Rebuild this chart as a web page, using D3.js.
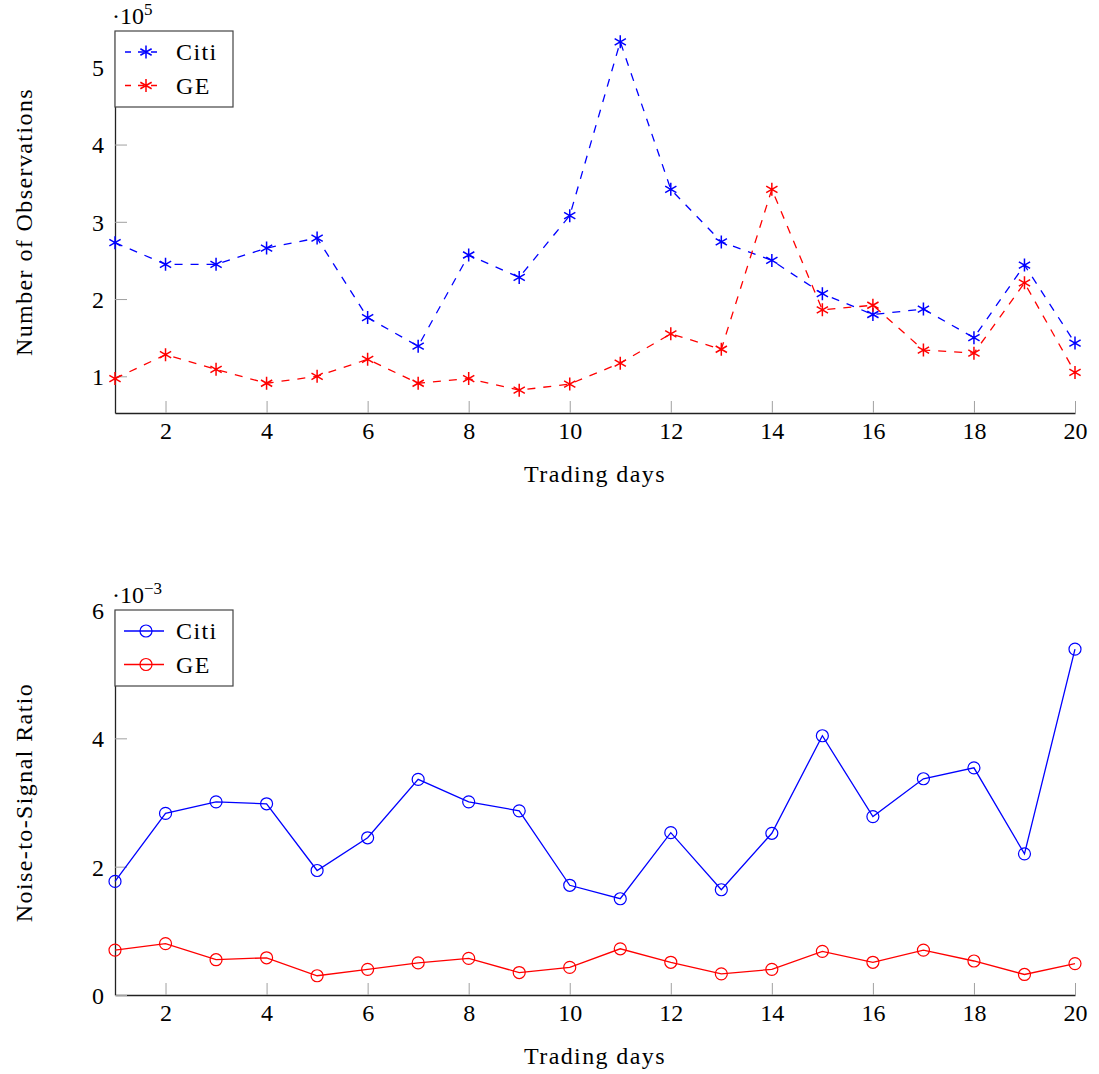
<!DOCTYPE html>
<html>
<head>
<meta charset="utf-8">
<script src="https://cdn.jsdelivr.net/npm/d3@7"></script>
<style>
	body { margin: 0; background: #fff; }
	text { font-family: "Liberation Serif", "DejaVu Serif", serif; fill: #000; }
</style>
</head>
<body>
<div id="app"></div>
<script>
// trading days and tick values
const days = [1, 2, 3, 4, 5, 6, 7, 8, 9, 10, 11, 12, 13, 14, 15, 16, 17, 18, 19, 20];
const dayTicks = [2, 4, 6, 8, 10, 12, 14, 16, 18, 20];

// number of observations, in units of 10^5
const obsCiti = [2.73, 2.45, 2.45, 2.66, 2.79, 1.76, 1.39, 2.57, 2.28, 3.08, 5.33, 3.42, 2.74, 2.50, 2.07, 1.80, 1.87, 1.50, 2.44, 1.43];
const obsGE = [0.97, 1.28, 1.09, 0.91, 1.00, 1.22, 0.91, 0.97, 0.82, 0.90, 1.17, 1.55, 1.35, 3.42, 1.86, 1.92, 1.34, 1.30, 2.21, 1.05];
const obsTicks = [1, 2, 3, 4, 5];

// noise-to-signal ratio, in units of 10^-3
const nsrCiti = [1.77, 2.83, 3.01, 2.98, 1.94, 2.45, 3.36, 3.01, 2.87, 1.71, 1.50, 2.53, 1.64, 2.52, 4.04, 2.78, 3.37, 3.54, 2.20, 5.39];
const nsrGE = [0.70, 0.80, 0.55, 0.58, 0.30, 0.40, 0.50, 0.57, 0.35, 0.43, 0.72, 0.51, 0.33, 0.40, 0.68, 0.51, 0.70, 0.53, 0.32, 0.49];
const nsrTicks = [0, 2, 4, 6];

const config = {
	width: 1099,
	height: 1074,
	left: 115,
	right: 1075,
	fontSize: 24,
	wordSpacing: "1.4px",
	color: { citi: "#0000ff", ge: "#ff0000" },
	tickColor: "#a0a0a0"
};

const svg = d3.select("#app").append("svg")
	.attr("width", config.width)
	.attr("height", config.height);

const x = d3.scaleLinear().domain([1, 20]).range([config.left, config.right]);

function asterisk(r) {
	let p = "";
	[90, 30, 150].forEach(a => {
		const dx = r * Math.cos(a * Math.PI / 180), dy = r * Math.sin(a * Math.PI / 180);
		p += `M${-dx},${-dy}L${dx},${dy}`;
	});
	return p;
}

function drawMark(g, type, color) {
	if (type === "star") {
		g.append("path").attr("d", asterisk(6.5))
			.attr("stroke", color).attr("stroke-width", 1.5).attr("fill", "none");
	} else {
		g.append("circle").attr("r", 6)
			.attr("stroke", color).attr("stroke-width", 1.2).attr("fill", "none");
	}
}

function drawPanel(opt) {
	const y = d3.scaleLinear().domain(opt.domain).range([opt.bottom, opt.top]);
	const g = svg.append("g");

	const xAxis = g.append("g")
		.attr("transform", `translate(0,${opt.bottom})`)
		.call(d3.axisBottom(x).tickValues(dayTicks).tickSizeInner(-12).tickSizeOuter(0).tickPadding(9));
	const yAxis = g.append("g")
		.attr("transform", `translate(${config.left},0)`)
		.call(d3.axisLeft(y).tickValues(opt.ticks).tickFormat(d3.format("d"))
			.tickSizeInner(-12).tickSizeOuter(0).tickPadding(11));

	[xAxis, yAxis].forEach(a => {
		a.select(".domain").attr("stroke", "#222").attr("stroke-width", 1.3);
		a.selectAll(".tick line").attr("stroke", config.tickColor).attr("stroke-width", 1);
		a.selectAll(".tick text").attr("font-size", config.fontSize).attr("font-family", null);
	});
	yAxis.selectAll(".tick text").attr("dy", "0.35em");

	// scale exponent
	const exp = g.append("text")
		.attr("x", config.left - 3)
		.attr("y", opt.top - 7)
		.attr("font-size", config.fontSize);
	exp.append("tspan").text("\u00b710");
	exp.append("tspan").attr("dy", -9).attr("font-size", 17).text(opt.exponent);

	// axis titles
	g.append("text")
		.attr("x", (config.left + config.right) / 2)
		.attr("y", opt.bottom + 69)
		.attr("text-anchor", "middle")
		.attr("font-size", config.fontSize)
		.attr("letter-spacing", config.wordSpacing)
		.text("Trading days");
	g.append("text")
		.attr("transform", `translate(32,${(opt.top + opt.bottom) / 2}) rotate(-90)`)
		.attr("text-anchor", "middle")
		.attr("font-size", config.fontSize)
		.attr("letter-spacing", config.wordSpacing)
		.text(opt.ylabel);

	const line = d3.line().x((d, i) => x(days[i])).y(d => y(d));

	opt.series.forEach(s => {
		g.append("path")
			.datum(s.values)
			.attr("d", line)
			.attr("fill", "none")
			.attr("stroke", s.color)
			.attr("stroke-width", 1.3)
			.attr("stroke-dasharray", opt.dashed ? "8,8" : null);
		g.selectAll(null)
			.data(s.values)
			.enter()
			.append("g")
			.attr("transform", (d, i) => `translate(${x(days[i])},${y(d)})`)
			.each(function () { drawMark(d3.select(this), opt.mark, s.color); });
	});

	// legend
	const lg = g.append("g").attr("transform", `translate(${config.left},${opt.top})`);
	lg.append("rect")
		.attr("width", 118).attr("height", 76)
		.attr("fill", "#fff").attr("stroke", "#444").attr("stroke-width", 1.2);
	opt.series.forEach((s, i) => {
		const cy = 21 + i * 33.5;
		lg.append("line")
			.attr("x1", 9).attr("x2", 49).attr("y1", cy).attr("y2", cy)
			.attr("stroke", s.color).attr("stroke-width", 1.3)
			.attr("stroke-dasharray", opt.dashed ? "6,7" : null)
			.attr("stroke-dashoffset", opt.dashed ? -1 : null);
		drawMark(lg.append("g").attr("transform", `translate(31,${cy})`), opt.mark, s.color);
		lg.append("text")
			.attr("x", 61).attr("y", cy + 8)
			.attr("font-size", config.fontSize)
			.attr("letter-spacing", config.wordSpacing)
			.text(s.name);
	});
}

drawPanel({
	top: 31, bottom: 413, domain: [0.525, 5.47], ticks: obsTicks,
	exponent: "5", ylabel: "Number of Observations", mark: "star", dashed: true,
	series: [
		{ name: "Citi", values: obsCiti, color: config.color.citi },
		{ name: "GE", values: obsGE, color: config.color.ge }
	]
});

drawPanel({
	top: 610, bottom: 995, domain: [0, 6], ticks: nsrTicks,
	exponent: "\u22123", ylabel: "Noise-to-Signal Ratio", mark: "circle", dashed: false,
	series: [
		{ name: "Citi", values: nsrCiti, color: config.color.citi },
		{ name: "GE", values: nsrGE, color: config.color.ge }
	]
});
</script>
</body>
</html>
